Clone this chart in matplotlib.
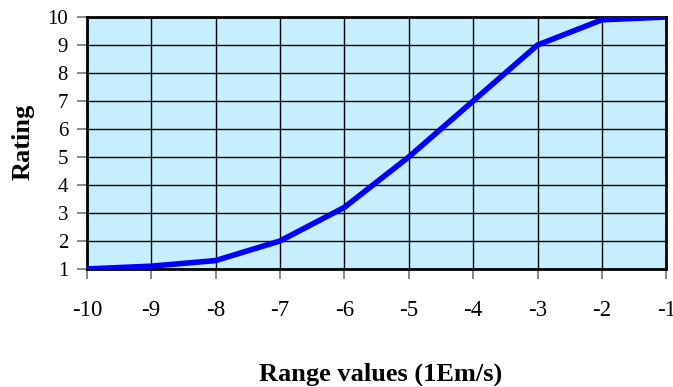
import matplotlib.pyplot as plt
import numpy as np

# range values (exponent) and rating
range_values = [-10, -9, -8, -7, -6, -5, -4, -3, -2, -1]
rating = [1.0, 1.1, 1.3, 2.0, 3.2, 5.0, 7.0, 9.0, 9.9, 10.0]
y_ticks = [1, 2, 3, 4, 5, 6, 7, 8, 9, 10]

plt.rcParams['font.family'] = ['Liberation Serif', 'DejaVu Serif']
plt.rcParams['axes.unicode_minus'] = False

fig = plt.figure(figsize=(6.73, 3.87), dpi=100)
ax = fig.add_axes([0.129, 0.305, 0.861, 0.651])

ax.set_facecolor('#c6eefc')
ax.plot(range_values, rating, color='#0000ff', linewidth=4.0, solid_capstyle='round', zorder=3)

ax.set_xlim(-10, -1)
ax.set_ylim(1, 10)
ax.set_xticks(range_values)
ax.set_yticks(y_ticks)
ax.grid(True, color='black', linewidth=1.0)
ax.set_axisbelow(True)

for s in ax.spines.values():
    s.set_linewidth(2.0)
    s.set_color('black')

ax.tick_params(axis='x', direction='out', length=7, width=1.2, color='#777777',
               labelsize=16.5, pad=15)
ax.tick_params(axis='y', direction='out', length=7, width=1.2, color='#777777',
               labelsize=15, pad=6.5)

fig.text(0.565, 0.0155, 'Range values (1Em/s)', ha='center', va='baseline',
         fontsize=19, fontweight='bold')
fig.text(0.034, 0.633, 'Rating', ha='center', va='center', rotation=90,
         fontsize=19, fontweight='bold')

fig.savefig('out.png', dpi=100)
